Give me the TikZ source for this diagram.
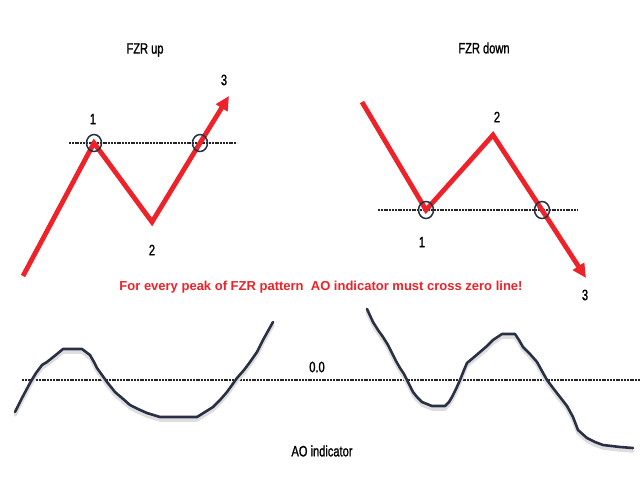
\documentclass[tikz,border=0pt]{standalone}
\usepackage{fontspec}
\setmainfont{Liberation Sans}
\newfontfamily\narrowfont[FakeStretch=0.74,FakeBold=1.2]{Liberation Sans}
\usetikzlibrary{arrows.meta,shapes.geometric}
\definecolor{zred}{RGB}{238,34,40}
\definecolor{navy}{RGB}{40,48,68}
\tikzset{
  zig/.style={draw=zred,line width=4.8pt,line join=miter},
  zigarrow/.style={zig,-{Triangle[length=14pt,width=13pt]}},
  zero/.style={draw=black!85,line width=1.1pt,dash pattern=on 2pt off 0.8pt},
  ring/.style={draw=navy,line width=1.5pt,ellipse,minimum width=15pt,minimum height=17pt,inner sep=0pt},
  lbl/.style={font=\narrowfont\fontsize{15}{15}\selectfont,text=black},
  ttl/.style={font=\narrowfont\fontsize{15}{15}\selectfont,text=black},
  ao/.style={draw=navy,line width=2.6pt,line join=round,line cap=round},
  aoshadow/.style={draw=black!13,line width=3.5pt,line join=round,line cap=round}
}
\begin{document}
\begin{tikzpicture}[x=1pt,y=-1pt]
\useasboundingbox[fill=white] (0,0) rectangle (640,480);

% ---------- FZR up ----------
\coordinate (u0) at (23,276);
\coordinate (u1) at (94,143);
\coordinate (u2) at (152,222);
\coordinate (u3) at (229,96);
\coordinate (ux) at (200,143);
\coordinate (ul) at (69,143);
\coordinate (ur) at (237,143);
\draw[zero] (ul) -- (ur);
\draw[zig] (u0) -- (u1) -- (u2) -- (ux);
\draw[zigarrow] (ux) -- (u3);
\node[ring] (uc1) at (u1) {};
\node[ring] (uc2) at (ux) {};
\node[ttl] (ut) at (145,50) {FZR up};
\node[lbl] (ul1) at (93,119) {1};
\node[lbl] (ul2) at (152,250) {2};
\node[lbl] (ul3) at (224,80) {3};

% ---------- FZR down ----------
\coordinate (d0) at (362,102);
\coordinate (d1) at (426,210);
\coordinate (d2) at (493,135);
\coordinate (d3) at (586,278);
\coordinate (dl) at (378,210);
\coordinate (dr) at (577,210);
\coordinate (dx) at (542,210);
\draw[zero] (dl) -- (dr);
\draw[zig] (d0) -- (d1) -- (d2) -- (dx);
\draw[zigarrow] (dx) -- (d3);
\node[ring] (dc1) at (d1) {};
\node[ring] (dc2) at (dx) {};
\node[ttl] (dt) at (484,48) {FZR down};
\node[lbl] (dl2) at (497,117) {2};
\node[lbl] (dl1) at (422,242) {1};
\node[lbl] (dl3) at (585,295) {3};

% ---------- message ----------
\node[font=\bfseries\fontsize{13}{13}\selectfont,text=zred] (msg) at (321,287)
  {For every peak of FZR pattern\ \ AO indicator must cross zero line!};

% ---------- AO indicator ----------
\coordinate (zl) at (22,380);
\coordinate (zr) at (640,380);
\draw[zero] (zl) -- (zr);
\node[ttl] (zlabel) at (317,367) {0.0};
\node[ttl] (aolabel) at (322,451) {AO indicator};

\def\aoleft{(15,412) -- (22,398) -- (30,383) -- (36,373) -- (42,365) -- (47,362) -- (52,358) -- (57,354) -- (63,349) -- (82,349) -- (90,355) -- (94,362) -- (97,368) -- (102,375) -- (107,382) -- (111,387) -- (115,392) -- (122,398) -- (130,405) -- (138,409) -- (147,413) -- (160,417) -- (197,417) -- (205,412) -- (213,407) -- (220,400) -- (227,392) -- (232,385) -- (237,378) -- (244,370) -- (250,362) -- (257,352) -- (263,340) -- (268,331) -- (273,322)}
\def\aoright{(367,309) -- (373,322) -- (378,330) -- (383,337) -- (388,345) -- (392,353) -- (396,361) -- (400,368) -- (404,374) -- (407,380) -- (410,386) -- (413,392) -- (417,397) -- (422,402) -- (432,406) -- (445,406) -- (449,402) -- (452,397) -- (456,389) -- (460,380) -- (464,370) -- (467,363) -- (473,358) -- (480,352) -- (487,346) -- (493,340) -- (502,334) -- (515,334) -- (519,340) -- (523,347) -- (530,354) -- (537,362) -- (542,371) -- (547,380) -- (553,388) -- (560,397) -- (567,406) -- (573,417) -- (578,430) -- (587,438) -- (595,442) -- (603,445) -- (620,447) -- (633,448)}
\draw[aoshadow,yshift=-3pt] \aoleft;
\draw[aoshadow,yshift=-3pt] \aoright;
\draw[ao] \aoleft;
\draw[ao] \aoright;
\end{tikzpicture}
\end{document}
